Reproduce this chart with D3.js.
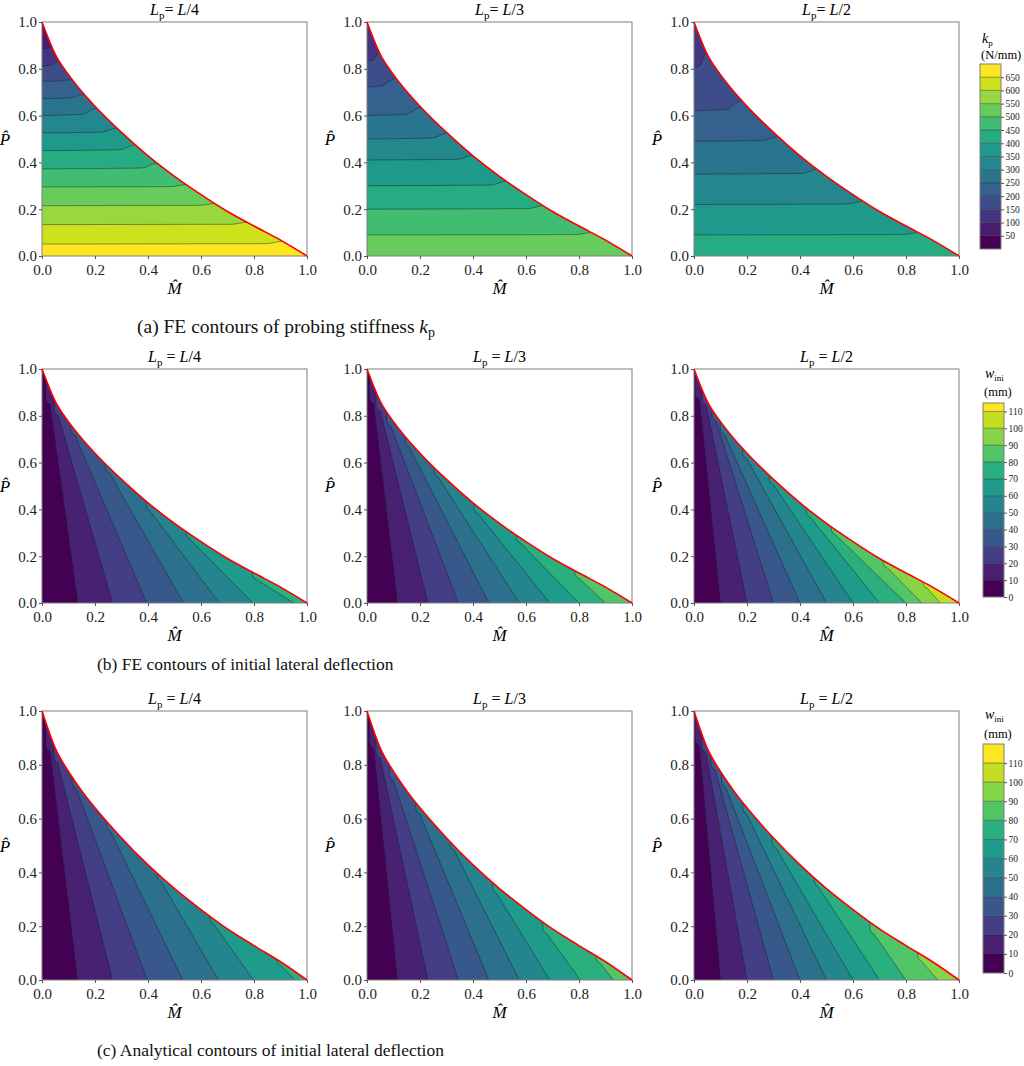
<!DOCTYPE html>
<html>
<head>
<meta charset="utf-8">
<script src="https://cdn.jsdelivr.net/npm/d3@7"></script>
<style>
  body { margin: 0; background: #fff; }
  text { font-family: "Liberation Serif", "Times New Roman", serif; }
</style>
</head>
<body>
<div id="chart"></div>
<script>
// normalised interaction curve (red line)
var boundaryM = [0, 0.05, 0.1, 0.15, 0.2, 0.3, 0.4, 0.5, 0.6, 0.7, 0.8, 0.9, 1.0];
var boundaryP = [1.0, 0.862, 0.775, 0.703, 0.64, 0.528, 0.428, 0.34, 0.262, 0.19, 0.128, 0.068, 0];

var panelLp = ["L/4", "L/3", "L/2"];
var axisTicks = [0, 0.2, 0.4, 0.6, 0.8, 1.0];

// colour bar levels
var kpLevels = [0, 50, 100, 150, 200, 250, 300, 350, 400, 450, 500, 550, 600, 650, 700];
var kpTicks = [50, 100, 150, 200, 250, 300, 350, 400, 450, 500, 550, 600, 650];
var wFeLevels = [0, 10, 20, 30, 40, 50, 60, 70, 80, 90, 100, 110, 115];
var wAnLevels = [0, 10, 20, 30, 40, 50, 60, 70, 80, 90, 100, 110, 120];
var wTicks = [0, 10, 20, 30, 40, 50, 60, 70, 80, 90, 100, 110];

// (a) kp contours: P-hat at M-hat = 0 and where each line meets the red curve
var kpBottomBand = [13, 10, 8];
var kpLeftL4  = [0.051, 0.134, 0.215, 0.295, 0.372, 0.45, 0.526, 0.60, 0.672, 0.746, 0.81, 0.885];
var kpRightL4 = [0.063, 0.144, 0.224, 0.305, 0.397, 0.476, 0.547, 0.632, 0.69, 0.754, 0.832, 0.896];
var kpLeftL3  = [0.09, 0.2, 0.3, 0.41, 0.5, 0.6, 0.72, 0.83];
var kpRightL3 = [0.1, 0.215, 0.32, 0.43, 0.525, 0.635, 0.76, 0.87];
var kpLeftL2  = [0.09, 0.22, 0.35, 0.49, 0.62, 0.8];
var kpRightL2 = [0.1, 0.235, 0.37, 0.51, 0.665, 0.87];

// (b) FE w_ini contours: foot on M-hat axis, tip just below the red curve
var wFeFootL4 = [0.135, 0.266, 0.395, 0.534, 0.669, 0.796, 0.95];
var wFeTipML4 = [0.03, 0.062, 0.125, 0.255, 0.41, 0.56, 0.81];
var wFeTipPL4 = [0.85, 0.80, 0.715, 0.555, 0.39, 0.27, 0.10];
var wFeFootL3 = [0.115, 0.23, 0.345, 0.46, 0.575, 0.69, 0.80, 0.90];
var wFeTipML3 = [0.025, 0.05, 0.09, 0.16, 0.27, 0.42, 0.58, 0.80];
var wFeTipPL3 = [0.85, 0.82, 0.755, 0.665, 0.535, 0.38, 0.255, 0.105];
var wFeFootL2 = [0.1, 0.2, 0.3, 0.4, 0.5, 0.6, 0.7, 0.8, 0.86, 0.93];
var wFeTipML2 = [0.02, 0.046, 0.084, 0.115, 0.2, 0.3, 0.44, 0.535, 0.73, 0.88];
var wFeTipPL2 = [0.87, 0.845, 0.775, 0.72, 0.615, 0.505, 0.365, 0.29, 0.15, 0.062];

// (c) analytical w_ini contours
var wAnFootL4 = [0.134, 0.266, 0.397, 0.531, 0.666, 0.798, 0.955];
var wAnTipML4 = [0.03, 0.06, 0.13, 0.26, 0.45, 0.65, 0.9];
var wAnTipPL4 = [0.85, 0.805, 0.71, 0.55, 0.365, 0.205, 0.055];
var wAnFootL3 = [0.115, 0.23, 0.345, 0.46, 0.575, 0.69, 0.805, 0.93];
var wAnTipML3 = [0.025, 0.05, 0.1, 0.2, 0.33, 0.49, 0.68, 0.88];
var wAnTipPL3 = [0.86, 0.825, 0.74, 0.615, 0.48, 0.32, 0.17, 0.062];
var wAnFootL2 = [0.1, 0.2, 0.3, 0.4, 0.5, 0.6, 0.7, 0.8, 0.92];
var wAnTipML2 = [0.02, 0.045, 0.08, 0.12, 0.2, 0.31, 0.47, 0.68, 0.86];
var wAnTipPL2 = [0.87, 0.845, 0.78, 0.715, 0.615, 0.49, 0.345, 0.17, 0.068];

// layout
var colX = [42, 367, 694], plotW = 265;
var rowY = [22, 369, 711], rowH = [234, 234, 269];

var svg = d3.select("#chart").append("svg")
    .attr("width", 1024)
    .attr("height", 1066);

var kpColor = d3.scaleSequential(d3.interpolateViridis).domain([0, kpLevels.length - 2]);
var wColor = d3.scaleSequential(d3.interpolateViridis).domain([0, wAnLevels.length - 2]);

// M-hat on the red curve for a given P-hat
var mAt = d3.scaleLinear().domain(boundaryP).range(boundaryM);
var edge = d3.zip(boundaryM, boundaryP);

function styleAxis(ax, size) {
  ax.select(".domain").remove();
  ax.attr("font-family", null).attr("font-size", null);
  ax.selectAll("text").style("font-family", '"Liberation Serif", serif').style("font-size", size + "px").attr("fill", "#222");
  ax.selectAll("line").attr("stroke", "#555");
}

function contourStroke(sel) {
  sel.attr("fill", "none").attr("stroke", "#1b1b1b").attr("stroke-width", 0.8).attr("stroke-opacity", 0.55);
}

function drawPanel(r, c, paint) {
  var x = d3.scaleLinear().domain([0, 1]).range([colX[c], colX[c] + plotW]);
  var y = d3.scaleLinear().domain([0, 1]).range([rowY[r] + rowH[r], rowY[r]]);
  var edgeLine = d3.line().x(function(d) { return x(d[0]); }).y(function(d) { return y(d[1]); }).curve(d3.curveMonotoneX);
  var g = svg.append("g");

  var clipId = "clip" + r + c;
  svg.append("clipPath").attr("id", clipId).append("path")
      .attr("d", edgeLine(edge) + "L" + x(0) + "," + y(0) + "Z");

  var fills = g.append("g").attr("clip-path", "url(#" + clipId + ")");
  paint(fills, x, y);

  g.append("rect")
      .attr("x", x(0)).attr("y", y(1))
      .attr("width", plotW).attr("height", rowH[r])
      .attr("fill", "none").attr("stroke", "#7f7f7f").attr("stroke-width", 1);

  g.append("path").attr("d", edgeLine(edge))
      .attr("fill", "none").attr("stroke", "#ff0000").attr("stroke-width", 1.6);

  var xAxis = g.append("g").attr("transform", "translate(0," + y(0) + ")")
      .call(d3.axisBottom(x).tickValues(axisTicks).tickFormat(d3.format(".1f")).tickSize(3).tickPadding(5));
  styleAxis(xAxis, 15);
  var yAxis = g.append("g").attr("transform", "translate(" + x(0) + ",0)")
      .call(d3.axisLeft(y).tickValues(axisTicks).tickFormat(d3.format(".1f")).tickSize(3).tickPadding(2));
  styleAxis(yAxis, 15);

  g.append("text").attr("x", x(0.5)).attr("y", y(0) + 38)
      .attr("text-anchor", "middle").attr("font-style", "italic").attr("font-size", 17)
      .text("M\u0302");
  g.append("text").attr("x", x(0) - 37).attr("y", y(0.5) + 6)
      .attr("text-anchor", "middle").attr("font-style", "italic").attr("font-size", 17)
      .text("P\u0302");

  var t = g.append("text").attr("x", x(0.5)).attr("y", y(1) - 7)
      .attr("text-anchor", "middle").attr("font-size", 16);
  t.append("tspan").attr("font-style", "italic").text("L");
  t.append("tspan").attr("font-size", 11).attr("dy", 3.5).text("p");
  t.append("tspan").attr("dy", -3.5).text(r === 0 ? "= " : " = ");
  t.append("tspan").attr("font-style", "italic").text("L");
  t.append("tspan").text(panelLp[c].slice(1));
}

// horizontal-ish kp bands, painted from the top band downwards
function paintKp(bottomBand, left, right) {
  return function(g, x, y) {
    var n = left.length;
    var line = d3.line().x(function(d) { return x(d[0]); }).y(function(d) { return y(d[1]); }).curve(d3.curveMonotoneX);
    g.append("rect").attr("x", x(0)).attr("y", y(1))
        .attr("width", x(1) - x(0)).attr("height", y(0) - y(1))
        .attr("fill", kpColor(bottomBand - n));
    var shapes = left.map(function(pl, i) {
      var pr = right[i], xb = mAt(pr);
      var xm = Math.max(xb * 0.4, xb - 0.06);
      return [[-0.05, pl], [xm, pl + 0.15 * (pr - pl)], [xb, pr], [1.5, pr]];
    });
    for (var i = n - 1; i >= 0; i--) {
      g.append("path")
          .attr("d", line(shapes[i]) + "L" + x(1.5) + "," + y(-0.2) + "L" + x(-0.05) + "," + y(-0.2) + "Z")
          .attr("fill", kpColor(bottomBand - i));
    }
    shapes.forEach(function(s) { g.append("path").attr("d", line(s)).call(contourStroke); });
  };
}

// slanted w bands, painted from left to right
function paintW(foot, tipM, tipP) {
  return function(g, x, y) {
    var line = d3.line().x(function(d) { return x(d[0]); }).y(function(d) { return y(d[1]); });
    g.append("rect").attr("x", x(0)).attr("y", y(1))
        .attr("width", x(1) - x(0)).attr("height", y(0) - y(1))
        .attr("fill", wColor(0));
    var shapes = foot.map(function(f, i) {
      var tm = tipM[i], tp = tipP[i];
      return [[f, -0.05], [f, 0], [tm, tp], [tm - 0.01, tp + 0.007], [tm - 0.016, tp + 0.02], [tm - 0.017, 1.5]];
    });
    shapes.forEach(function(s, i) {
      g.append("path").attr("d", line(s.concat([[1.5, 1.5], [1.5, -0.05]])) + "Z")
          .attr("fill", wColor(i + 1));
    });
    shapes.forEach(function(s) { g.append("path").attr("d", line(s)).call(contourStroke); });
  };
}

drawPanel(0, 0, paintKp(kpBottomBand[0], kpLeftL4, kpRightL4));
drawPanel(0, 1, paintKp(kpBottomBand[1], kpLeftL3, kpRightL3));
drawPanel(0, 2, paintKp(kpBottomBand[2], kpLeftL2, kpRightL2));
drawPanel(1, 0, paintW(wFeFootL4, wFeTipML4, wFeTipPL4));
drawPanel(1, 1, paintW(wFeFootL3, wFeTipML3, wFeTipPL3));
drawPanel(1, 2, paintW(wFeFootL2, wFeTipML2, wFeTipPL2));
drawPanel(2, 0, paintW(wAnFootL4, wAnTipML4, wAnTipPL4));
drawPanel(2, 1, paintW(wAnFootL3, wAnTipML3, wAnTipPL3));
drawPanel(2, 2, paintW(wAnFootL2, wAnTipML2, wAnTipPL2));

function drawColorbar(x0, yTop, yBot, levels, ticks, color, sym, sub, unit, symY, unitY) {
  var barW = 21;
  var s = d3.scaleLinear().domain([levels[0], levels[levels.length - 1]]).range([yBot, yTop]);
  var g = svg.append("g");
  for (var i = 0; i < levels.length - 1; i++) {
    g.append("rect").attr("x", x0).attr("y", s(levels[i + 1]))
        .attr("width", barW).attr("height", s(levels[i]) - s(levels[i + 1]))
        .attr("fill", color(i));
  }
  levels.slice(1, -1).forEach(function(v) {
    g.append("line").attr("x1", x0).attr("x2", x0 + barW).attr("y1", s(v)).attr("y2", s(v)).call(contourStroke);
  });
  g.append("rect").attr("x", x0).attr("y", yTop).attr("width", barW).attr("height", yBot - yTop)
      .attr("fill", "none").attr("stroke", "#7f7f7f").attr("stroke-width", 1);
  var ax = g.append("g").attr("transform", "translate(" + (x0 + barW) + ",0)")
      .call(d3.axisRight(s).tickValues(ticks).tickSize(3).tickPadding(1.5));
  styleAxis(ax, 9.5);

  var t = g.append("text").attr("x", x0 + 2).attr("y", symY).attr("font-size", 14);
  t.append("tspan").attr("font-style", "italic").text(sym);
  t.append("tspan").attr("font-size", 9).attr("dy", 3).text(sub);
  g.append("text").attr("x", x0 + 1).attr("y", unitY).attr("font-size", 12.5).text(unit);
}

drawColorbar(980, 64, 249, kpLevels, kpTicks, kpColor, "k", "p", "(N/mm)", 43, 59);
drawColorbar(983, 403, 597, wFeLevels, wTicks, wColor, "w", "ini", "(mm)", 378, 396);
drawColorbar(983, 744, 973, wAnLevels, wTicks, wColor, "w", "ini", "(mm)", 719, 738);

// sub-figure captions
var captions = [
  {x: 137, y: 333, size: 19.5, text: "(a) FE contours of probing stiffness ", k: true},
  {x: 97, y: 670, size: 17.5, text: "(b) FE contours of initial lateral deflection", k: false},
  {x: 97, y: 1056, size: 17.5, text: "(c) Analytical contours of initial lateral deflection", k: false}
];
captions.forEach(function(cp) {
  var t = svg.append("text").attr("x", cp.x).attr("y", cp.y).attr("font-size", cp.size).attr("fill", "#111");
  t.append("tspan").text(cp.text);
  if (cp.k) {
    t.append("tspan").attr("font-style", "italic").text("k");
    t.append("tspan").attr("font-size", 14).attr("dy", 4).text("p");
  }
});
</script>
</body>
</html>
